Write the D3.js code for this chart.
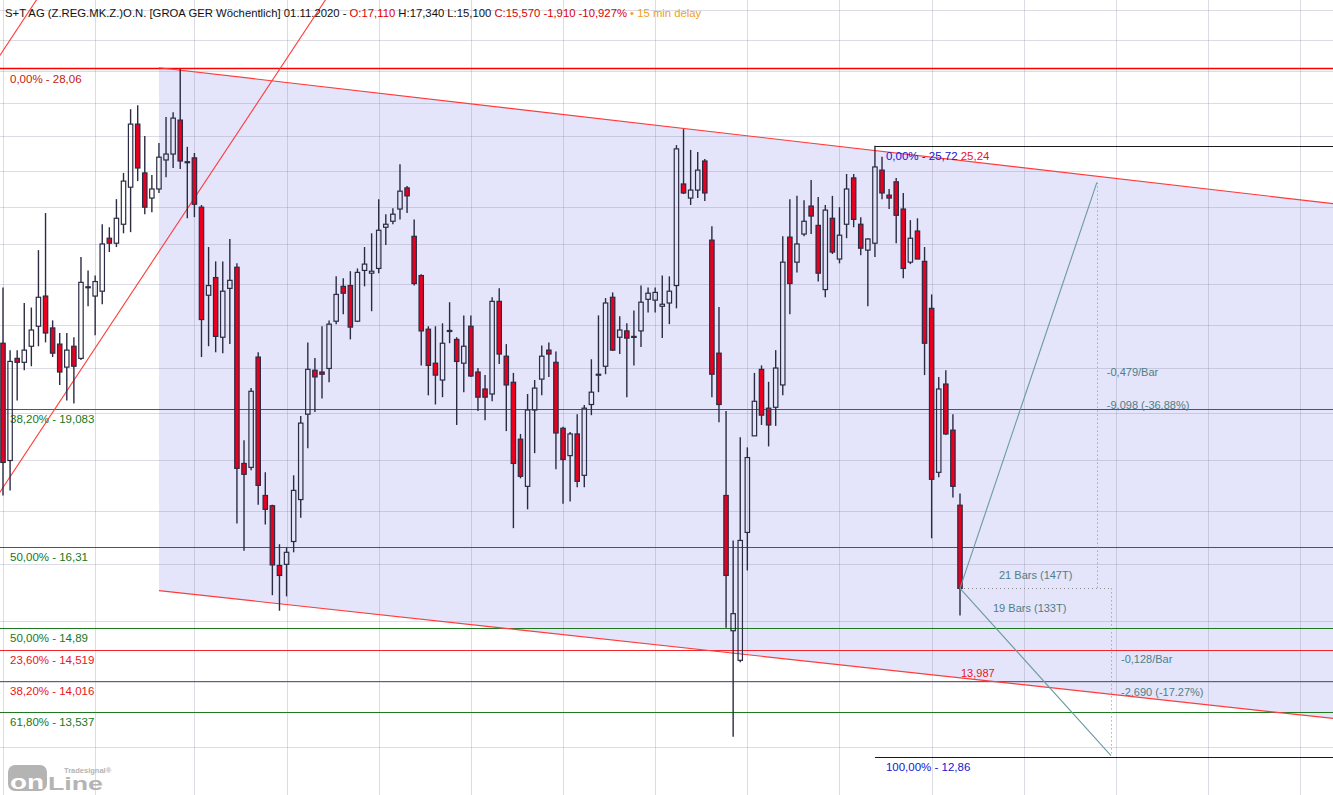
<!DOCTYPE html>
<html><head><meta charset="utf-8">
<script src="https://cdn.jsdelivr.net/npm/d3@7/dist/d3.min.js"></script>
<style>body{margin:0;background:#fff;overflow:hidden}svg{display:block}text{font-family:"Liberation Sans",Arial,sans-serif}</style>
</head><body><svg id="c" width="1333" height="795"></svg>
<script>
// ---------- data ----------
const firstBarDate = "2018-04-01";   // weekly bars
const open = [20.56,18.00,20.21,20.12,20.49,20.96,21.69,20.92,20.54,20.01,
20.49,20.21,21.90,21.69,21.81,23.16,23.03,23.53,24.54,26.36,
24.94,24.24,24.49,25.31,25.48,26.48,25.25,25.37,23.99,21.71,
22.15,20.70,21.88,22.41,17.94,17.86,20.24,17.30,17.10,15.98,
16.00,16.42,17.22,18.97,19.94,19.90,19.98,21.08,21.93,21.95,
21.08,22.33,22.26,22.38,23.45,23.61,23.94,24.52,23.21,22.20,
20.89,20.10,19.72,20.85,20.65,20.10,20.96,19.90,19.52,19.41,
21.56,20.26,19.67,18.44,17.48,19.06,19.74,20.40,20.12,18.67,
18.10,18.55,17.70,19.18,19.83,20.03,21.66,20.70,20.85,20.70,
20.85,21.61,21.59,21.44,21.52,21.95,24.63,24.24,24.46,25.28,
23.11,20.33,17.30,14.84,14.35,16.59,18.51,19.96,19.10,19.12,
19.61,23.19,22.54,23.27,24.02,23.50,21.85,23.69,22.62,23.53,
24.80,23.53,22.85,23.03,25.02,24.32,24.69,23.94,22.54,23.35,
22.56,21.39,17.76,19.63,18.63,17.11];
const high = [21.90,20.40,20.40,21.52,21.41,22.85,23.83,21.10,20.80,20.80,
20.70,22.67,22.33,22.20,23.53,23.45,24.21,24.94,26.81,26.93,
26.01,24.88,25.80,26.57,26.72,28.06,25.69,25.51,24.05,22.93,
22.56,22.56,23.14,22.51,18.42,19.54,20.35,17.76,17.12,16.37,
16.31,17.70,18.93,20.58,20.22,20.96,21.10,22.18,22.13,22.31,
22.38,22.93,23.29,24.21,23.80,23.96,25.19,24.57,23.66,22.23,
20.96,20.96,21.03,21.54,20.70,21.22,21.22,19.99,19.83,21.66,
21.88,20.54,19.88,18.55,19.41,19.72,20.51,20.58,20.37,18.70,
18.59,18.97,19.17,20.19,21.22,21.64,21.78,21.20,21.03,21.34,
21.95,21.90,21.90,22.20,22.18,25.74,26.21,25.60,25.54,25.34,
23.48,21.42,19.04,16.44,18.48,18.27,19.88,20.05,19.68,20.40,
23.21,24.21,24.30,24.18,24.74,24.27,24.05,24.30,23.99,24.91,
24.91,23.72,23.16,25.72,25.40,24.49,24.80,24.38,23.64,23.69,
22.93,21.73,19.79,19.94,18.97,17.34];
const low = [17.30,17.40,19.27,19.94,20.03,20.49,20.58,20.24,19.61,19.27,
19.20,20.17,21.44,20.75,21.49,22.80,22.93,23.29,23.32,24.71,
23.80,23.85,24.38,24.82,25.08,25.05,23.69,23.72,20.24,20.49,
20.35,20.33,20.54,16.76,16.25,17.80,17.12,16.74,15.45,15.18,
15.43,16.22,16.87,18.25,19.02,19.31,19.67,21.01,21.25,20.65,
21.06,21.93,21.32,22.26,22.98,23.53,23.66,23.83,21.95,20.05,
19.38,19.18,19.34,20.56,18.74,19.45,19.79,19.04,18.84,19.25,
20.08,18.61,16.67,17.64,17.03,18.15,19.38,19.79,17.82,17.14,
17.18,17.46,17.46,18.95,19.45,19.85,20.38,20.31,19.34,20.05,
20.47,21.29,21.29,20.68,21.01,21.39,24.35,24.05,24.24,24.16,
19.34,18.80,14.89,13.16,14.32,15.89,18.51,18.74,18.29,18.72,
19.38,21.25,22.28,23.21,23.27,22.05,21.66,22.75,22.51,23.16,
23.45,22.72,21.44,22.67,24.21,23.94,23.03,22.13,22.49,22.62,
19.83,16.48,17.66,18.53,17.26,15.10];
const close = [17.96,20.14,20.12,20.40,20.87,21.66,20.80,20.33,19.90,20.40,
20.03,22.03,21.92,22.05,23.01,23.03,23.69,24.71,26.36,25.08,
23.99,24.49,25.39,25.48,26.54,25.28,25.26,24.07,21.12,21.95,
20.72,21.81,22.08,17.84,17.72,19.47,17.50,17.03,15.99,15.80,
16.22,17.40,18.78,19.96,19.79,19.85,21.01,21.73,21.76,20.94,
22.28,22.49,22.31,23.37,23.53,23.80,24.43,24.30,22.00,20.85,
20.05,19.83,20.56,20.86,20.14,20.49,19.81,19.34,19.34,21.56,
20.31,19.61,17.94,17.68,19.06,19.54,20.26,20.31,18.57,18.02,
18.55,17.58,19.10,19.45,19.85,21.52,20.40,20.87,20.68,20.72,
21.54,21.76,21.78,21.49,21.81,25.63,24.38,24.46,25.02,24.38,
19.85,19.18,15.80,15.13,16.44,18.06,19.25,18.95,18.74,19.99,
22.54,22.00,23.01,23.61,23.75,22.26,23.91,22.80,23.24,24.49,
23.66,22.90,23.14,25.11,24.38,24.24,23.77,22.38,23.16,22.62,
20.56,17.62,19.52,18.55,17.48,15.57];

const fibPrices = [28.06, 19.083, 16.31, 14.89, 14.519, 14.016, 13.537];
const fibLabels = ["0,00% - 28,06","38,20% - 19,083","50,00% - 16,31","50,00% - 14,89","23,60% - 14,519","38,20% - 14,016","61,80% - 13,537"];
const fibKinds = ["top","green","green","green","red","red","green"];

const fib2Bar = 123, fib2Prices = [25.72, 12.86];
const fib2Labels = ["0,00% - 25,72", "100,00% - 12,86"];
const fib2Extra = "25,24";

const channelBars = [22, 188];
const channelUpper = [28.10, 24.08];
const channelLower = [15.53, 13.43];
const channelValueLabel = "13,987";

const trendBars = [[0, 40], [0, 4]];
const trendPrices = [[17.46, 28.39], [28.65, 30.08]];

const projFromBar = 135, projFromPrice = 15.57;
const projUpBar = 154.3, projUpPrice = 24.668;
const projDownBar = 156.3, projDownPrice = 12.88;
const projUpLabels = ["-0,479/Bar", "-9,098 (-36.88%)", "21 Bars (147T)"];
const projDownLabels = ["19 Bars (133T)", "-0,128/Bar", "-2,690 (-17.27%)"];

const titleText = "S+T AG (Z.REG.MK.Z.)O.N. [GROA GER Wöchentlich] 01.11.2020 - ";

// ---------- scales ----------
const W = 1333, H = 795;
const svg = d3.select("#c");
const x = d3.scaleLinear().domain([0, 135]).range([3, 960]);
const y = d3.scaleLog().domain([12.86, 28.06]).range([757, 69]);

const start = new Date(firstBarDate + "T00:00:00Z");
const nBars = 189;
const dates = d3.range(nBars).map(i => d3.utcWeek.offset(start, i));
const q = d => d.getUTCFullYear() * 4 + Math.floor(d.getUTCMonth() / 3);
const gridBars = d3.range(nBars).filter(i => i === 0 || q(dates[i]) !== q(dates[i - 1]));

svg.append("defs").append("clipPath").attr("id", "clip")
  .append("rect").attr("x", 0).attr("y", 0).attr("width", W).attr("height", H);
const root = svg.append("g").attr("clip-path", "url(#clip)");

// channel fill
const cx0 = x(channelBars[0]), cx1 = x(channelBars[1]);
root.append("path")
  .attr("d", `M${cx0},${y(channelUpper[0])}L${cx1},${y(channelUpper[1])}L${cx1},${y(channelLower[1])}L${cx0},${y(channelLower[0])}Z`)
  .attr("fill", "rgb(228,228,251)");

// grid
const gridColor = "rgba(120,120,150,0.26)";
root.append("g").selectAll("line").data(d3.range(13, 31)).join("line")
  .attr("x1", 0).attr("x2", W).attr("y1", d => Math.round(y(d)) + 0.5).attr("y2", d => Math.round(y(d)) + 0.5)
  .attr("stroke", gridColor).attr("stroke-width", 1);
root.append("g").selectAll("line").data(gridBars).join("line")
  .attr("y1", 0).attr("y2", H).attr("x1", d => Math.round(x(d)) + 0.5).attr("x2", d => Math.round(x(d)) + 0.5)
  .attr("stroke", gridColor).attr("stroke-width", 1);

// horizontal fib lines
const kindLine = {top: "#ff0000", green: "#1f7a1f", red: "#f0262a"};
const kindText = {top: "#c41a10", green: "#15781a", red: "#e8151a"};
const fy = (d, i) => Math.round(y(d)) + (fibKinds[i] === "top" ? -0.5 : 0.5);
root.append("g").selectAll("line").data(fibPrices).join("line")
  .attr("x1", 0).attr("x2", W).attr("y1", fy).attr("y2", fy)
  .attr("stroke", (d, i) => kindLine[fibKinds[i]]).attr("stroke-width", (d, i) => fibKinds[i] === "top" ? 1.3 : 1.1);
root.append("g").selectAll("text").data(fibPrices).join("text")
  .attr("x", 10).attr("y", d => y(d) + 14)
  .attr("font-size", 11.5).attr("fill", (d, i) => kindText[fibKinds[i]])
  .text((d, i) => fibLabels[i]);

// helper for infinite straight line through two points (pixel space)
function extLine(p1, p2, xa, xb) {
  const s = (p2[1] - p1[1]) / (p2[0] - p1[0]);
  return [[xa, p1[1] + s * (xa - p1[0])], [xb, p1[1] + s * (xb - p1[0])]];
}
// channel border lines
[channelUpper, channelLower].forEach(pr => {
  root.append("line")
    .attr("x1", cx0).attr("y1", y(pr[0])).attr("x2", cx1).attr("y2", y(pr[1]))
    .attr("stroke", "#ff3b3b").attr("stroke-width", 1.2);
});
// trend lines
trendBars.forEach((b, k) => {
  const pts = extLine([x(b[0]), y(trendPrices[k][0])], [x(b[1]), y(trendPrices[k][1])], -10, 400);
  root.append("line").attr("x1", pts[0][0]).attr("y1", pts[0][1]).attr("x2", pts[1][0]).attr("y2", pts[1][1])
    .attr("stroke", "#ff3b3b").attr("stroke-width", 1.1);
});

// fib 2 lines
const f2x = x(fib2Bar);
fib2Prices.forEach(p => {
  root.append("line").attr("x1", f2x).attr("x2", W).attr("y1", Math.round(y(p)) + 0.5).attr("y2", Math.round(y(p)) + 0.5)
    .attr("stroke", "#1a1a1a").attr("stroke-width", 1);
});

// candles
const bw = 4.4;
const cg = root.append("g");
const idx = d3.range(open.length);
const candle = cg.selectAll("g").data(idx).join("g");
const wickCol = "#2b2b44";
candle.append("line")
  .attr("x1", i => x(i)).attr("x2", i => x(i))
  .attr("y1", i => y(high[i])).attr("y2", i => y(Math.max(open[i], close[i])))
  .attr("stroke", wickCol).attr("stroke-width", 1.4);
candle.append("line")
  .attr("x1", i => x(i)).attr("x2", i => x(i))
  .attr("y1", i => y(Math.min(open[i], close[i]))).attr("y2", i => y(low[i]))
  .attr("stroke", wickCol).attr("stroke-width", 1.4);
candle.append("rect")
  .attr("x", i => x(i) - bw / 2).attr("width", bw)
  .attr("y", i => y(Math.max(open[i], close[i])))
  .attr("height", i => Math.max(1, y(Math.min(open[i], close[i])) - y(Math.max(open[i], close[i]))))
  .attr("fill", i => close[i] < open[i] ? "#e8001e" : "none")
  .attr("stroke", wickCol).attr("stroke-width", 1.2);

// projection lines
const pf = [x(projFromBar), y(projFromPrice)];
const pu = [x(projUpBar), y(projUpPrice)];
const pd = [x(projDownBar), y(projDownPrice)];
const projCol = "#6b9aa0";
[pu, pd].forEach(p => root.append("line").attr("x1", pf[0]).attr("y1", pf[1]).attr("x2", p[0]).attr("y2", p[1])
  .attr("stroke", projCol).attr("stroke-width", 1.1));
const dot = (x1, y1, x2, y2) => root.append("line").attr("x1", x1).attr("y1", y1).attr("x2", x2).attr("y2", y2)
  .attr("stroke", "#8a8a8a").attr("stroke-width", 1).attr("stroke-dasharray", "1,3");
dot(pf[0], Math.round(pf[1]) + 0.5, pd[0], Math.round(pf[1]) + 0.5);
dot(Math.round(pu[0]) + 0.5, pu[1], Math.round(pu[0]) + 0.5, pf[1]);
dot(Math.round(pd[0]) + 0.5, pf[1], Math.round(pd[0]) + 0.5, pd[1]);

const labCol = "#4e7f86";
const lab = (t, xx, yy, col) => root.append("text").attr("x", xx).attr("y", yy).attr("font-size", 11).attr("fill", col || labCol).text(t);
lab(projUpLabels[0], pu[0] + 10, y(19.083) - 33);
lab(projUpLabels[1], pu[0] + 10, y(19.083) + 0);
lab(projUpLabels[2], pf[0] + 39, pf[1] - 9);
lab(projDownLabels[0], pf[0] + 33, pf[1] + 24);
lab(projDownLabels[1], pd[0] + 10, y(14.519) + 13);
lab(projDownLabels[2], pd[0] + 10, y(14.016) + 15);

// channel value & fib2 labels
const chLowerNow = y(channelLower[0]) + (y(channelLower[1]) - y(channelLower[0])) * (projFromBar - channelBars[0]) / (channelBars[1] - channelBars[0]);
lab(channelValueLabel, pf[0] + 1, chLowerNow - 1, "#e8151a");
const t2 = root.append("text").attr("x", f2x + 11).attr("y", y(fib2Prices[0]) + 14).attr("font-size", 11.5);
t2.append("tspan").attr("fill", "#1515d0").text(fib2Labels[0]);
t2.append("tspan").attr("fill", "#e8151a").text(" " + fib2Extra);
root.append("text").attr("x", f2x + 11).attr("y", y(fib2Prices[1]) + 14).attr("font-size", 11.5).attr("fill", "#1515d0").text(fib2Labels[1]);

// header
const L = open.length - 1;
const fmt = v => d3.format(".3f")(v).replace(".", ",").replace("\u2212", "-");
const chg = close[L] - close[L - 1];
const pct = chg / close[L - 1] * 100;
const hdr = svg.append("text").attr("x", 5).attr("y", 17).attr("font-size", 11.3);
hdr.append("tspan").attr("fill", "#111").text(titleText);
hdr.append("tspan").attr("fill", "#e00000").text("O:" + fmt(open[L]));
hdr.append("tspan").attr("fill", "#111").text(" H:" + fmt(high[L]) + " L:" + fmt(low[L]) + " ");
hdr.append("tspan").attr("fill", "#e00000").text("C:" + fmt(close[L]) + " " + fmt(chg) + " " + fmt(pct) + "%");
hdr.append("tspan").attr("fill", "#f0a020").text(" • 15 min delay");

// logo
const lg = svg.append("g").attr("fill", "#b4b4b4");
lg.append("rect").attr("x", 8).attr("y", 765).attr("width", 39).attr("height", 26).attr("rx", 7);
svg.append("text").attr("x", 10).attr("y", 789).attr("font-size", 21).attr("font-weight", "bold").attr("fill", "#fff")
  .attr("textLength", 34).attr("lengthAdjust", "spacingAndGlyphs").text("on");
lg.append("text").attr("x", 48).attr("y", 790).attr("font-size", 19).attr("font-weight", "bold")
  .attr("textLength", 55).attr("lengthAdjust", "spacingAndGlyphs").text("Line");
lg.append("text").attr("x", 64).attr("y", 773).attr("font-size", 7.5).attr("font-weight", "bold").text("Tradesignal®");
</script></body></html>
